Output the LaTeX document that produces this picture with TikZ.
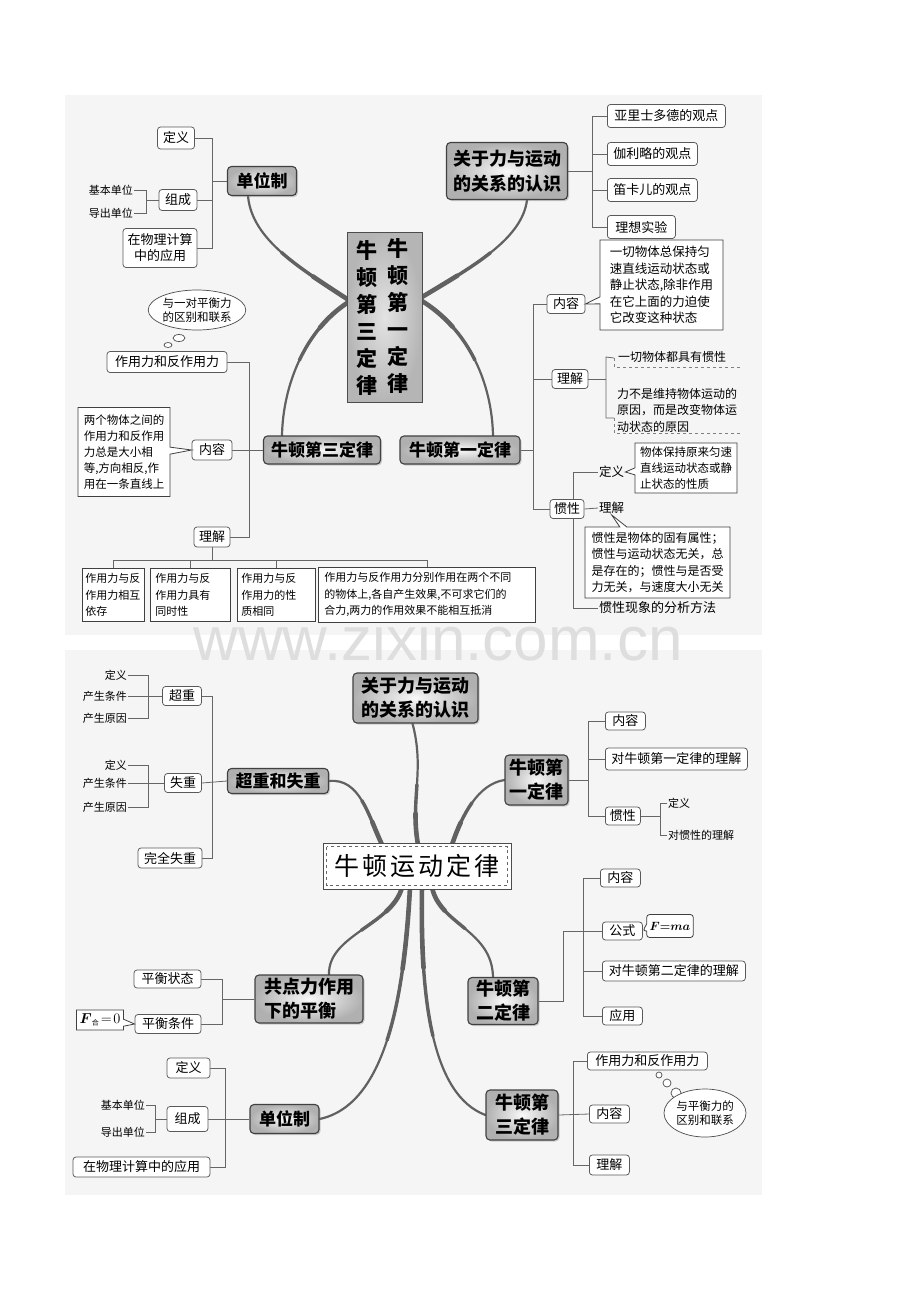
\documentclass[tikz,border=0pt]{standalone}
\usepackage{fontspec}
\setmainfont{Noto Sans CJK SC}
\newfontfamily\wmfont{Liberation Sans}
\usetikzlibrary{shapes.callouts,shapes.geometric,calc,shadows}
\pgfdeclarelayer{bg}
\pgfdeclarelayer{back}
\pgfsetlayers{bg,back,main}
\definecolor{panelbg}{RGB}{245,245,245}
\definecolor{wmc}{RGB}{222,222,222}
\newcommand\fsz[2]{\fontsize{#1}{#2}\selectfont}
% tapered branch: thin at #1, thicker toward #4
\newcommand\branch[4]{%
  \draw[brc, line width=2.2pt] #1 .. controls #2 and #3 .. #4;
  \draw[brc, line width=3.4pt] ($0.125*#1+0.375*#2+0.375*#3+0.125*#4$) .. controls ($0.25*#2+0.5*#3+0.25*#4$) and ($0.5*#3+0.5*#4$) .. #4;
  \draw[brc, line width=4.6pt] ($0.015625*#1+0.140625*#2+0.421875*#3+0.421875*#4$) .. controls ($0.0625*#2+0.375*#3+0.5625*#4$) and ($0.25*#3+0.75*#4$) .. #4;}
\tikzset{
  hub/.style={draw=black!75, line width=1.1pt, rounded corners=4pt, inner color=gray!5, outer color=gray!62,
    font=\bfseries\fsz{17}{21}, align=center, inner sep=2pt,
    drop shadow={shadow xshift=1.5pt, shadow yshift=-1.5pt, opacity=0.35}},
  leaf/.style={draw=black!65, line width=0.75pt, rounded corners=3pt, fill=white, font=\fsz{13}{16}, inner sep=2pt, align=center},
  note/.style={rectangle callout, callout pointer width=7pt, draw=black!75, line width=0.8pt, fill=white,
    font=\fsz{11.5}{16}, align=left, inner sep=3pt},
  plain/.style={draw=black!75, line width=0.8pt, fill=white, font=\fsz{11}{16.5}, align=left, inner sep=3pt, anchor=north west},
  lbl/.style={font=\fsz{11}{13}, inner sep=1pt},
  lbl2/.style={font=\fsz{12}{16.5}, inner sep=1pt, align=left},
  link/.style={draw=black!60, line width=0.8pt},
  brc/.style={draw=black!62, line cap=round},
  thought/.style={ellipse, draw=black!70, line width=0.7pt, fill=white, inner sep=0pt, font=\fsz{11.5}{14}, align=center},
  vbox/.style={draw=black!70, line width=0.8pt, inner color=gray!22, outer color=gray!58},
  vtxt/.style={font=\bfseries\fsz{21}{27}, align=center, inner sep=0pt},
  cbox/.style={draw=black!70, line width=0.8pt, fill=white, font=\fsz{25}{28}},
}
\begin{document}
\begin{tikzpicture}[x=1pt,y=-1pt]
\useasboundingbox (0,0) rectangle (920,1302);
\begin{pgfonlayer}{bg}
  \fill[white] (0,0) rectangle (920,1302);
  \fill[panelbg] (65,95) rectangle (762,635);
  \fill[panelbg] (65,650) rectangle (762,1195);
  \node[anchor=base, text=wmc, font=\wmfont\fsz{62}{62}, inner sep=0pt] (wm) at (438,660) {www.zixin.com.cn};
\end{pgfonlayer}

% ================= TOP PANEL =================
\node[leaf, minimum width=37, minimum height=22] (t_dy) at (176,138) {定义};
\node[leaf, minimum width=38, minimum height=21] (t_zc) at (178,200) {组成};
\node[lbl, anchor=east] (t_jb) at (134,190) {基本单位};
\node[lbl, anchor=east] (t_dc) at (134,213) {导出单位};
\node[leaf, minimum width=74, minimum height=39] (t_yy) at (160,248) {在物理计算\\中的应用};
\node[hub, minimum width=69, minimum height=29] (t_dwz) at (262,181) {单位制};
\node[hub, minimum width=121, minimum height=57, font=\bfseries\fsz{18}{25}] (t_gy) at (507,171) {关于力与运动\\的关系的认识};
\node[leaf, anchor=west, minimum width=118, minimum height=23] (t_l1) at (607,116) {亚里士多德的观点};
\node[leaf, anchor=west, minimum width=90, minimum height=23] (t_l2) at (607,154) {伽利略的观点};
\node[leaf, anchor=west, minimum width=90, minimum height=23] (t_l3) at (607,190) {笛卡儿的观点};
\node[leaf, anchor=west, minimum width=68, minimum height=23] (t_l4) at (607,227) {理想实验};
\node[vbox, minimum width=75, minimum height=170] (t_c) at (384.5,317) {};
\node[vtxt] (t_c1) at (398,316) {牛\\顿\\第\\一\\定\\律};
\node[vtxt] (t_c3) at (367,318) {牛\\顿\\第\\三\\定\\律};
\node[hub, minimum width=117, minimum height=28] (t_n3) at (322,450) {牛顿第三定律};
\node[hub, minimum width=120, minimum height=28] (t_n1) at (460,450) {牛顿第一定律};
\node[leaf, minimum width=120, minimum height=21] (t_zy) at (167,362) {作用力和反作用力};
\node[thought, minimum width=95, minimum height=40] (t_th) at (197,310) {与一对平衡力\\的区别和联系};
\node[thought, minimum width=12, minimum height=7] (t_th1) at (179,338) {};
\node[thought, minimum width=8, minimum height=5] (t_th2) at (168,345) {};
\node[leaf, minimum width=40, minimum height=20] (t_nr) at (212,450) {内容};
\node[note, minimum width=92, minimum height=89, callout absolute pointer={(t_nr.west)}] (t_nrc) at (124,452)
  {两个物体之间的\\作用力和反作用\\力总是大小相\\等,方向相反,作\\用在一条直线上};
\node[leaf, minimum width=36, minimum height=20] (t_lj) at (212,537) {理解};
\node[plain, minimum width=62, minimum height=53, text width=56] (t_b1) at (82,568) {作用力与反\\作用力相互\\依存};
\node[plain, minimum width=80, minimum height=53, text width=70] (t_b2) at (150,568) {作用力与反\\作用力具有\\同时性};
\node[plain, minimum width=78, minimum height=53, text width=70] (t_b3) at (237,568) {作用力与反\\作用力的性\\质相同};
\node[plain, minimum width=217, minimum height=55, text width=205] (t_b4) at (318,567) {作用力与反作用力分别作用在两个不同\\的物体上,各自产生效果,不可求它们的\\合力,两力的作用效果不能相互抵消};
\node[leaf, minimum width=38, minimum height=19] (t_nr1) at (566,304) {内容};
\node[note, minimum width=123, minimum height=90, font=\fsz{12.5}{16.5}, callout absolute pointer={(t_nr1.east)}] (t_nrc1) at (661.5,285)
  {一切物体总保持匀\\速直线运动状态或\\静止状态,除非作用\\在它上面的力迫使\\它改变这种状态};
\node[leaf, minimum width=36, minimum height=19] (t_lj1) at (570,379) {理解};
\node[lbl2, anchor=west] (t_u1) at (617,357) {一切物体都具有惯性};
\node[lbl2, anchor=north west] (t_u2) at (616,387) {力不是维持物体运动的\\原因，而是改变物体运\\动状态的原因};
\node[leaf, minimum width=34, minimum height=19] (t_gx) at (567,509) {惯性};
\node[lbl2, anchor=west, font=\fsz{12.5}{15}] (t_gxdy) at (598,472) {定义};
\node[lbl2, anchor=west, font=\fsz{12.5}{15}] (t_gxlj) at (598,508) {理解};
\node[lbl2, anchor=west, font=\fsz{13}{15}] (t_gxff) at (598,608) {惯性现象的分析方法};
\node[note, minimum width=102, minimum height=50, callout absolute pointer={(t_gxdy.east)}] (t_dyc) at (686,468)
  {物体保持原来匀速\\直线运动状态或静\\止状态的性质};
\node[note, minimum width=145, minimum height=71, font=\fsz{12}{16.5}, callout absolute pointer={(t_gxlj.south)}] (t_ljc) at (657.5,562.5)
  {惯性是物体的固有属性；\\惯性与运动状态无关，总\\是存在的；惯性与是否受\\力无关，与速度大小无关};

% ================= BOTTOM PANEL =================
\node[leaf, minimum width=39, minimum height=19] (b_cz) at (182,696) {超重};
\node[lbl, anchor=east] (b_cz1) at (128,675) {定义};
\node[lbl, anchor=east] (b_cz2) at (128,696) {产生条件};
\node[lbl, anchor=east] (b_cz3) at (128,718) {产生原因};
\node[leaf, minimum width=37, minimum height=19] (b_sz) at (183,783) {失重};
\node[lbl, anchor=east] (b_sz1) at (128,765) {定义};
\node[lbl, anchor=east] (b_sz2) at (128,783) {产生条件};
\node[lbl, anchor=east] (b_sz3) at (128,807) {产生原因};
\node[leaf, minimum width=64, minimum height=20] (b_wq) at (170,858) {完全失重};
\node[hub, minimum width=101, minimum height=25] (b_czsz) at (278,781) {超重和失重};
\node[hub, minimum width=125, minimum height=50, font=\bfseries\fsz{18}{24}] (b_gy) at (415.5,698) {关于力与运动\\的关系的认识};
\node[hub, minimum width=63, minimum height=50, font=\bfseries\fsz{18}{24}] (b_n1) at (536.5,780) {牛顿第\\一定律};
\node[leaf, anchor=west, minimum width=40, minimum height=18] (b_nr) at (605,721) {内容};
\node[leaf, anchor=west, minimum width=142, minimum height=22] (b_lj) at (605,759) {对牛顿第一定律的理解};
\node[leaf, anchor=west, minimum width=35, minimum height=18] (b_gx) at (605,816) {惯性};
\node[lbl, anchor=west] (b_gx1) at (667,803) {定义};
\node[lbl, anchor=west] (b_gx2) at (667,835) {对惯性的理解};
\node[cbox, minimum width=188, minimum height=46] (b_c) at (417,866) {牛\hspace{3pt}顿\hspace{3pt}运\hspace{3pt}动\hspace{3pt}定\hspace{3pt}律};
\node[hub, minimum width=108, minimum height=48, font=\bfseries\fsz{18}{24}, align=left] (b_gd) at (309,999) {共点力作用\\下的平衡};
\node[leaf, minimum width=67, minimum height=18] (b_ph1) at (167.5,979) {平衡状态};
\node[leaf, minimum width=66, minimum height=19] (b_ph2) at (168,1024) {平衡条件};
\node[note, minimum width=44, minimum height=20, font=\fsz{14}{16}, callout absolute pointer={(b_ph2.west)}] (b_F) at (100,1020)
  {{\boldmath$F$}$_{\mbox{\fsz{7}{8}合}}\!=\!0$};
\node[hub, minimum width=70, minimum height=47, font=\bfseries\fsz{18}{24}] (b_n2) at (503,1001) {牛顿第\\二定律};
\node[leaf, anchor=west, minimum width=40, minimum height=18] (b_nr2) at (600,878) {内容};
\node[leaf, anchor=west, minimum width=40, minimum height=18] (b_gs) at (602,931) {公式};
\node[note, rounded corners=3pt, minimum width=40, minimum height=23, font=\fsz{12.5}{14}, callout absolute pointer={(b_gs.east)}] (b_fma) at (670,926) {{\boldmath$F{=}ma$}};
\node[leaf, anchor=west, minimum width=143, minimum height=20] (b_lj2) at (602,971) {对牛顿第二定律的理解};
\node[leaf, anchor=west, minimum width=40, minimum height=18] (b_yy) at (602,1016) {应用};
\node[leaf, minimum width=43, minimum height=20] (b_dy) at (188.5,1068) {定义};
\node[leaf, minimum width=41, minimum height=25] (b_zc) at (187.5,1119) {组成};
\node[lbl, anchor=east] (b_jb) at (146,1105) {基本单位};
\node[lbl, anchor=east] (b_dc) at (146,1132) {导出单位};
\node[leaf, minimum width=137, minimum height=20] (b_yy2) at (141.5,1167) {在物理计算中的应用};
\node[hub, minimum width=69, minimum height=29] (b_dwz) at (284.5,1119) {单位制};
\node[hub, minimum width=72, minimum height=50, font=\bfseries\fsz{18}{24}] (b_n3) at (522,1115) {牛顿第\\三定律};
\node[leaf, anchor=west, minimum width=120, minimum height=18] (b_zy) at (587,1061) {作用力和反作用力};
\node[leaf, anchor=west, minimum width=40, minimum height=18] (b_nr3) at (589,1114) {内容};
\node[leaf, anchor=west, minimum width=40, minimum height=20] (b_lj3) at (589,1165) {理解};
\node[thought, minimum width=6, minimum height=6] (b_th1) at (659,1075) {};
\node[thought, minimum width=8, minimum height=8] (b_th2) at (667,1083) {};
\node[thought, minimum width=10, minimum height=10] (b_th3) at (676,1093) {};
\node[thought, minimum width=82, minimum height=48] (b_th) at (705,1113) {与平衡力的\\区别和联系};

% ================= CONNECTORS =================
\begin{pgfonlayer}{back}
  \coordinate (s1) at ($(t_dwz.south)+(-14,0)$);
  \coordinate (s2) at ($(t_n3.north)+(-40,0)$);
  \coordinate (s3) at ($(t_gy.south)+(20,0)$);
  \coordinate (s4) at ($(t_n1.north)+(33,0)$);
  \coordinate (e1) at ($(t_c.west)+(2,-17)$);
  \coordinate (e2) at ($(t_c.west)+(2,-15)$);
  \coordinate (e3) at ($(t_c.east)+(-2,-19)$);
  \coordinate (e4) at ($(t_c.east)+(-2,-17)$);
  \branch{(s1)}{(252,240)}{(300,268)}{(e1)}
  \branch{(s2)}{(283,385)}{(305,330)}{(e2)}
  \branch{(s3)}{(522,240)}{(470,268)}{(e3)}
  \branch{(s4)}{(492,385)}{(470,330)}{(e4)}
  \coordinate (s5) at (b_czsz.east);
  \coordinate (s6) at ($(b_gy.south)+(-3,0)$);
  \coordinate (s7) at (b_n1.west);
  \coordinate (s8) at ($(b_gd.north)+(20,0)$);
  \coordinate (s9) at (b_dwz.east);
  \coordinate (s10) at (b_n3.west);
  \coordinate (s11) at ($(b_n2.north)+(-10,0)$);
  \coordinate (c5) at ($(b_c.north)+(-35,2)$);
  \coordinate (c6) at ($(b_c.north)+(1,2)$);
  \coordinate (c7) at ($(b_c.north)+(35,2)$);
  \coordinate (c8) at ($(b_c.south)+(-15,-2)$);
  \coordinate (c9) at ($(b_c.south)+(-7,-2)$);
  \coordinate (c10) at ($(b_c.south)+(5,-2)$);
  \coordinate (c11) at ($(b_c.south)+(15,-2)$);
  \branch{(s5)}{(360,778)}{(368,815)}{(c5)}
  \branch{(s6)}{(425,770)}{(410,800)}{(c6)}
  \branch{(s7)}{(478,784)}{(462,815)}{(c7)}
  \branch{(s8)}{(328,935)}{(392,925)}{(c8)}
  \branch{(s9)}{(385,1105)}{(404,1000)}{(c9)}
  \branch{(s10)}{(432,1095)}{(420,1000)}{(c10)}
  \branch{(s11)}{(492,930)}{(440,925)}{(c11)}

  \coordinate (t_bus1) at (212,0);
  \coordinate (t_br0) at (146,0);
  \draw[link] (t_dy.east) -- (t_dy.east -| t_bus1) |- (t_yy.east);
  \draw[link] (t_zc.east) -- (t_zc.east -| t_bus1);
  \draw[link] (t_dwz.west) -- (t_dwz.west -| t_bus1);
  \draw[link] (t_jb.east) -- (t_jb.east -| t_br0) |- (t_dc.east);
  \draw[link] (t_zc.west) -- (t_zc.west -| t_br0);
  \coordinate (t_bus2) at (592,0);
  \draw[link] (t_l1.west) -- (t_l1.west -| t_bus2) |- (t_l4.west);
  \draw[link] (t_l2.west) -- (t_l2.west -| t_bus2);
  \draw[link] (t_l3.west) -- (t_l3.west -| t_bus2);
  \draw[link] (t_gy.east) -- (t_gy.east -| t_bus2);
  \coordinate (t_bus3) at (249,0);
  \draw[link] (t_zy.east) -- (t_zy.east -| t_bus3) |- (t_lj.east);
  \draw[link] (t_nr.east) -- (t_n3.west);
  \coordinate (t_hy) at (0,560);
  \draw[link] (t_lj.south) -- (t_lj.south |- t_hy);
  \draw[link] (t_b1.north) -- (t_b1.north |- t_hy) -- (t_b4.north |- t_hy) -- (t_b4.north);
  \draw[link] (t_b2.north) -- (t_b2.north |- t_hy);
  \draw[link] (t_b3.north) -- (t_b3.north |- t_hy);
  \coordinate (t_bus4) at (533,0);
  \draw[link] (t_nr1.west) -- (t_nr1.west -| t_bus4) |- (t_gx.west);
  \draw[link] (t_lj1.west) -- (t_lj1.west -| t_bus4);
  \draw[link] (t_n1.east) -- (t_n1.east -| t_bus4);
  \coordinate (t_br1) at (606,0);
  \draw[link] (t_lj1.east) -- (t_lj1.east -| t_br1);
  \draw[link] (614,358) -- (t_u1.west -| t_br1) -- (606,418) -- (614,418);
  \draw[link, dashed, draw=black!50] (614,358) -- (614,367) -- (740,367);
  \draw[link, dashed, draw=black!50] (614,418) -- (614,433) -- (740,433);
  \coordinate (t_gxbus) at (573,0);
  \draw[link] (t_gxdy.west) -- (t_gxdy.west -| t_gxbus) -- (t_gxff.west -| t_gxbus) -- (t_gxff.west);
  \draw[link] (t_gx.east) -- (t_gxlj.west);

  \coordinate (b_brA) at (148,0);
  \coordinate (b_busA) at (212,0);
  \draw[link] (b_cz1.east) -- (b_cz1.east -| b_brA) |- (b_cz3.east);
  \draw[link] (b_cz2.east) -- (b_cz.west);
  \draw[link] (b_sz1.east) -- (b_sz1.east -| b_brA) |- (b_sz3.east);
  \draw[link] (b_sz2.east) -- (b_sz.west);
  \draw[link] (b_cz.east) -- (b_cz.east -| b_busA) |- (b_wq.east);
  \draw[link] (b_sz.east) -- (b_czsz.west);
  \coordinate (b_busB) at (588,0);
  \coordinate (b_brB) at (660,0);
  \draw[link] (b_nr.west) -- (b_nr.west -| b_busB) |- (b_gx.west);
  \draw[link] (b_lj.west) -- (b_lj.west -| b_busB);
  \draw[link] (b_n1.east) -- (b_n1.east -| b_busB);
  \draw[link] (b_gx.east) -- (b_gx.east -| b_brB);
  \draw[link] (b_gx1.west) -- (b_gx1.west -| b_brB) -- (b_gx2.west -| b_brB) -- (b_gx2.west);
  \coordinate (b_busC) at (222,0);
  \draw[link] (b_ph1.east) -- (b_ph1.east -| b_busC) |- (b_ph2.east);
  \draw[link] (b_gd.west) -- (b_gd.west -| b_busC);
  \coordinate (b_busD) at (583,0);
  \draw[link] (b_nr2.west) -- (b_nr2.west -| b_busD) |- (b_yy.west);
  \draw[link] (b_lj2.west) -- (b_lj2.west -| b_busD);
  \draw[link] (b_n2.east) -- ++(25,0) |- (b_gs.west);
  \coordinate (b_brE) at (155,0);
  \coordinate (b_busE) at (225,0);
  \draw[link] (b_jb.east) -- (b_jb.east -| b_brE) |- (b_dc.east);
  \draw[link] (b_zc.west) -- (b_zc.west -| b_brE);
  \draw[link] (b_dy.east) -- (b_dy.east -| b_busE) |- (b_yy2.east);
  \draw[link] (b_zc.east) -- (b_dwz.west);
  \coordinate (b_busF) at (573,0);
  \draw[link] (b_zy.west) -- (b_zy.west -| b_busF) |- (b_lj3.west);
  \draw[link] (b_nr3.west) -- (b_n3.east);
\end{pgfonlayer}
\draw[black!60, line width=0.7pt, dashed] ($(b_c.north west)+(4,4)$) rectangle ($(b_c.south east)+(-4,-4)$);
\end{tikzpicture}
\end{document}
